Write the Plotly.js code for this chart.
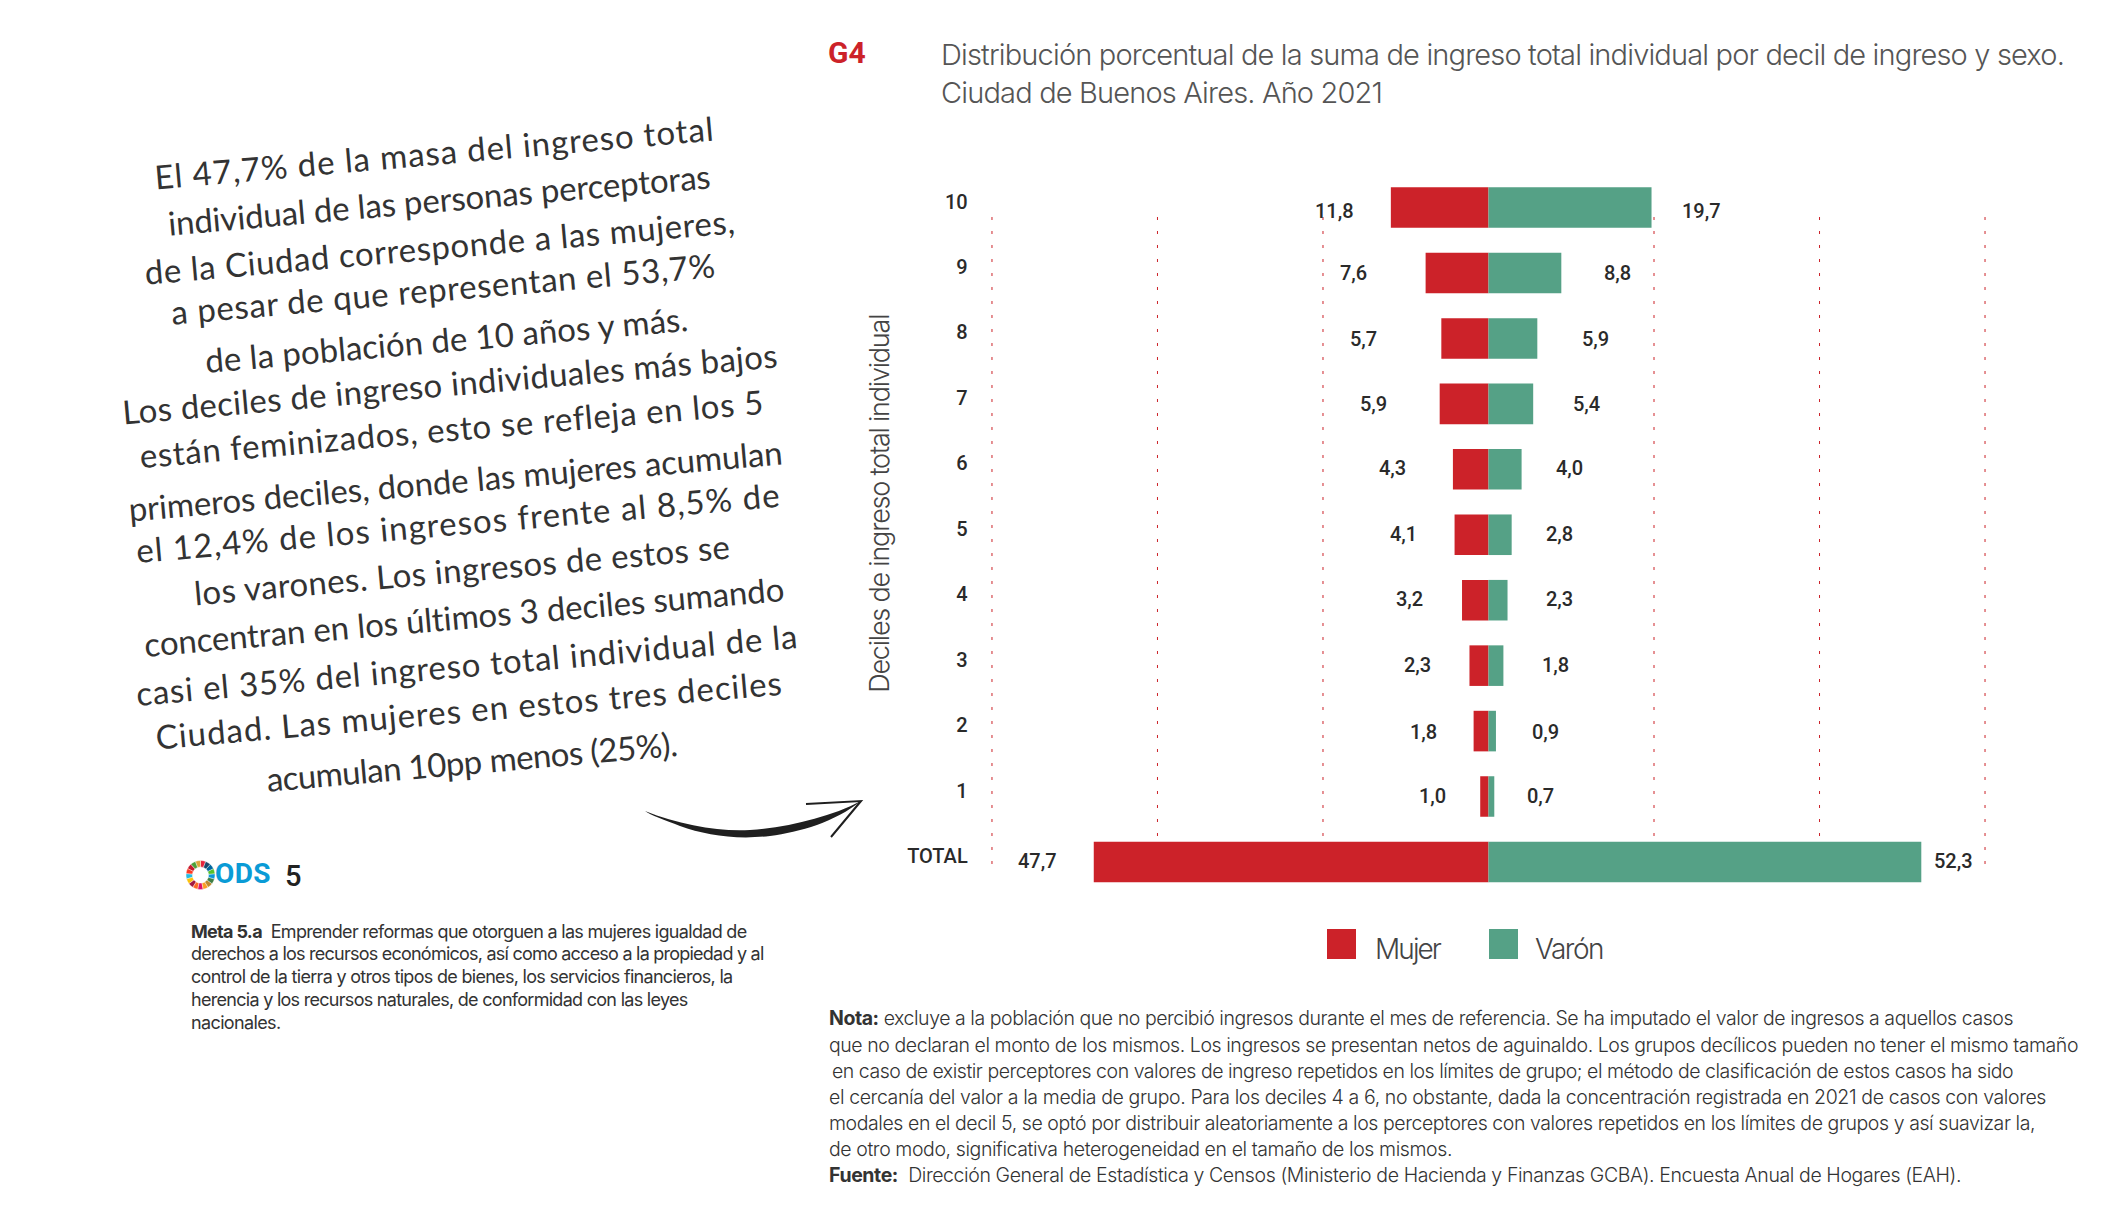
<!DOCTYPE html>
<html lang="es">
<head>
<meta charset="utf-8">
<script src="https://cdn.plot.ly/plotly-3.0.1.min.js"></script>
<style>html,body{margin:0;padding:0;background:#fff}#chart{width:2109px;height:1217px}</style>
</head>
<body>
<div id="chart"></div>
<script>
// ---------- data ----------
const categories = ["TOTAL","1","2","3","4","5","6","7","8","9","10"];
const mujer = [47.7,1.0,1.8,2.3,3.2,4.1,4.3,5.9,5.7,7.6,11.8];
const varon = [52.3,0.7,0.9,1.8,2.3,2.8,4.0,5.4,5.9,8.8,19.7];
const seriesNames = ["Mujer","Varón"];
const gridTicks = [-60,-40,-20,20,40,60];
const chartTitle = "Distribución porcentual de la suma de ingreso total individual por decil de ingreso y sexo.";
const chartSubtitle = "Ciudad de Buenos Aires. Año 2021";
const axisTitle = "Deciles de ingreso total individual";
const odsWheel = [1,1,1,1,1,1,1,1,1,1,1,1,1,1,1,1,1];
const odsColors = ["#E5243B","#DDA63A","#4C9F38","#C5192D","#FF3A21","#26BDE2","#FCC30B","#A21942","#FD6925","#DD1367","#FD9D24","#BF8B2E","#3F7E44","#0A97D9","#56C02B","#00689D","#19486A"];
const handLines = ["El 47,7% de la masa del ingreso total","individual de las personas perceptoras","de la Ciudad corresponde a las mujeres,","a pesar de que representan el 53,7%","de la población de 10 años y más.","Los deciles de ingreso individuales más bajos","están feminizados, esto se refleja en los 5","primeros deciles, donde las mujeres acumulan","el 12,4% de los ingresos frente al 8,5% de","los varones. Los ingresos de estos se","concentran en los últimos 3 deciles sumando","casi el 35% del ingreso total individual de la","Ciudad. Las mujeres en estos tres deciles","acumulan 10pp menos (25%)."];
const metaLines = ["<b>Meta 5.a</b>  Emprender reformas que otorguen a las mujeres igualdad de","derechos a los recursos económicos, así como acceso a la propiedad y al","control de la tierra y otros tipos de bienes, los servicios financieros, la","herencia y los recursos naturales, de conformidad con las leyes","nacionales."];
const noteLines = ["<b>Nota:</b> excluye a la población que no percibió ingresos durante el mes de referencia. Se ha imputado el valor de ingresos a aquellos casos","que no declaran el monto de los mismos. Los ingresos se presentan netos de aguinaldo. Los grupos decílicos pueden no tener el mismo tamaño","en caso de existir perceptores con valores de ingreso repetidos en los límites de grupo; el método de clasificación de estos casos ha sido","el cercanía del valor a la media de grupo. Para los deciles 4 a 6, no obstante, dada la concentración registrada en 2021 de casos con valores","modales en el decil 5, se optó por distribuir aleatoriamente a los perceptores con valores repetidos en los límites de grupos y así suavizar la,","de otro modo, significativa heterogeneidad en el tamaño de los mismos.","<b>Fuente:</b>  Dirección General de Estadística y Censos (Ministerio de Hacienda y Finanzas GCBA). Encuesta Anual de Hogares (EAH)."];

// ---------- layout helpers (pixels on the 2109x1217 page) ----------
const W = 2109, H = 1217, S = W / 1568;
const px = x => x / W, py = y => 1 - y / H;
const RED = "#CC2229", GREEN = "#55A186";
const TEXTFONT = "Inter";
const canvas = document.createElement("canvas").getContext("2d");
// letter spacing that makes a text of a given font size reach the target width
function track(text, family, weight, size, target) {
  let width = 0, count = 0;
  text.split(/(<b>.*?<\/b>)/).forEach(part => {
    const bold = part.startsWith("<b>");
    const plain = part.replace(/<[^>]+>/g, "");
    canvas.font = `${bold ? 700 : weight} ${size}px "${family}"`;
    width += canvas.measureText(plain).width;
    count += plain.length;
  });
  return +((target - width) / count).toFixed(3);
}
const annotations = [], cssRules = [];
function tracked(ann, ls) {
  annotations.push(ann);
  if (ls) cssRules.push(`.annotation[data-index="${annotations.length - 1}"] text{letter-spacing:${ls}px}`);
}
function line(text, x, y, size, family, weight, color, target) {
  const ls = target ? track(text, family, weight, size, target) : 0;
  tracked({text, xref:"paper", yref:"paper", x:px(x), y:py(y), xanchor:"left", yanchor:"middle",
    showarrow:false, borderpad:0, align:"left", font:{family, size, color, weight}}, ls);
}

// label gaps between the bar end and the label centre, and small vertical nudges
const mujerGap = [56,48,50,52,53,51,60,66,78,72,56];
const varonGap = [32,46,50,52,52,48,48,53,58,56,50];
const labelDy  = [1,1,-1,1,1,1,1,0,-1,0,-3];
const fmt = v => v.toFixed(1).replace(".", ",");

const LABEL = {family:"Roboto", size:20, color:"#2a2a2a", weight:500};
categories.forEach((c, i) => {
  annotations.push({x:-mujer[i], y:c, xref:"x", yref:"y", text:fmt(mujer[i]), xshift:-mujerGap[i], yshift:labelDy[i], showarrow:false, xanchor:"center", yanchor:"middle", borderpad:0, font:LABEL});
  annotations.push({x:varon[i], y:c, xref:"x", yref:"y", text:fmt(varon[i]), xshift:varonGap[i], yshift:labelDy[i], showarrow:false, xanchor:"center", yanchor:"middle", borderpad:0, font:LABEL});
});

// hand-lettered paragraph: [left, centre y, right] of each line in the 1568-wide scale
const handEnds = [[115,113,531],[125,148,528],[108,183,547],[127,214,532],[152,252,512],[91,285,578],[104,318,568],[96,357,582],[101,388,580],[144,423,543],[107,458,583],[101,494,593],[116,527,582],[198,566,503]];
const HAND = "Lato";
handLines.forEach((t, i) => {
  const [l, y, r] = handEnds[i];
  const w = (r - l) * S;
  tracked({text:t, xref:"paper", yref:"paper", x:px((l + r) / 2 * S), y:py(y * S), xanchor:"center", yanchor:"middle",
    showarrow:false, borderpad:0, textangle:-5, font:{family:HAND, size:33, color:"#333333"}}, track(t, HAND, 400, 33, w / Math.cos(5 * Math.PI / 180)));
});

// ODS block
line("<b>ODS</b>", 213.5, 874, 28, "Roboto", 400, "#0A9BD6", 56);
line("5", 284, 876, 29, "Roboto", 500, "#222222");

// meta 5.a
const metaY = [931,953.5,976.5,999.5,1022], metaR = [745,762,731,686,279];
metaLines.forEach((t, i) => line(t, 189.5, metaY[i], 18, TEXTFONT, 400, "#333333", metaR[i] - 189.5));

// nota / fuente
const noteY = [1018,1045,1071,1097,1123,1149,1175], noteL = [828,828,831,828,828,828,828], noteR = [2012,2077,2012,2045,2034,1451,1960];
noteLines.forEach((t, i) => line(t, noteL[i], noteY[i], 19.5, TEXTFONT, 300, "#333333", noteR[i] - noteL[i]));

// G4 tag, axis title and legend labels
line("<b>G4</b>", 827, 53, 30, "Roboto", 400, RED, 38);
tracked({text:axisTitle, xref:"paper", yref:"paper", x:px(879), y:py(504), xanchor:"center", yanchor:"middle", showarrow:false, borderpad:0, textangle:-90,
  font:{family:TEXTFONT, weight:300, size:27, color:"#444444"}}, track(axisTitle, TEXTFONT, 300, 27, 378));
line(seriesNames[0], 1374, 949, 28, TEXTFONT, 300, "#444444", 65);
line(seriesNames[1], 1534, 949, 28, TEXTFONT, 300, "#444444", 68);

const rect = (x0, y0, x1, y1, color) => ({type:"rect", xref:"paper", yref:"paper", x0:px(x0), x1:px(x1), y0:py(y0), y1:py(y1), fillcolor:color, line:{width:0}});
const P = (x, y) => `${px(x)},${py(y)}`;
const shapes = gridTicks.map(t => ({type:"line", layer:"below", xref:"x", yref:"paper", x0:t, x1:t, y0:py(217), y1:py(872),
    line:{color:RED, width:1, dash:"3px,11px"}})).concat([
  rect(1327, 929, 1356, 959, RED),
  rect(1489, 929, 1518, 959, GREEN),
  {type:"path", xref:"paper", yref:"paper", fillcolor:"#1f1f1f", line:{width:0},
   path:`M${P(645,811)} C${P(680,825)} ${P(720,832)} ${P(750,830)} C${P(790,827)} ${P(830,817)} ${P(861,801)} C${P(835,822)} ${P(800,832)} ${P(770,836)} C${P(735,840)} ${P(705,835)} ${P(680,826)} C${P(665,820)} ${P(650,815)} ${P(645,811)} Z`},
  {type:"path", xref:"paper", yref:"paper", line:{width:2, color:"#1f1f1f"},
   path:`M${P(806,804)} L${P(861,801)} L${P(831,837)}`}
]);

const traces = [
  {type:"bar", orientation:"h", name:seriesNames[0], y:categories, x:mujer.map(v => -v), marker:{color:RED}, hoverinfo:"none"},
  {type:"bar", orientation:"h", name:seriesNames[1], y:categories, x:varon, marker:{color:GREEN}, hoverinfo:"none"},
  {type:"pie", values:odsWheel, marker:{colors:odsColors, line:{color:"#ffffff", width:0.4}}, hole:0.56, sort:false, textinfo:"none", hoverinfo:"none", showlegend:false,
   domain:{x:[px(186), px(215)], y:[py(889.5), py(860.5)]}}
];

const titleSize = 29;
const layout = {
  width:W, height:H, margin:{l:0, r:0, t:0, b:0, pad:0}, paper_bgcolor:"#fff", plot_bgcolor:"rgba(0,0,0,0)",
  showlegend:false, barmode:"relative", bargap:0.38,
  title:{text:chartTitle + "<br>" + chartSubtitle, x:px(941), xref:"paper", xanchor:"left", y:py(65), yref:"paper", yanchor:"top",
    font:{family:TEXTFONT, weight:300, size:titleSize, color:"#555555"}},
  xaxis:{domain:[px(983.7), px(1993.3)], range:[-61,61], showticklabels:false, zeroline:false, showline:false, ticks:"", showgrid:false, fixedrange:true},
  yaxis:{domain:[py(894.7), py(174.8)], type:"category", categoryorder:"array", categoryarray:categories, range:[-0.5, 10.5],
    showgrid:false, zeroline:false, showline:false, ticks:"", automargin:false, ticklabelstandoff:15, ticklabelshift:-6,
    tickfont:{family:"Roboto", size:20, color:"#2a2a2a", weight:500}, fixedrange:true},
  annotations, shapes
};
cssRules.push(`.gtitle{letter-spacing:${track(chartTitle, TEXTFONT, 300, titleSize, 1123)}px}`);
const st = document.createElement("style");
st.textContent = cssRules.join("\n");
document.head.appendChild(st);
Plotly.newPlot("chart", traces, layout, {displayModeBar:false, staticPlot:true});
</script>
</body>
</html>
